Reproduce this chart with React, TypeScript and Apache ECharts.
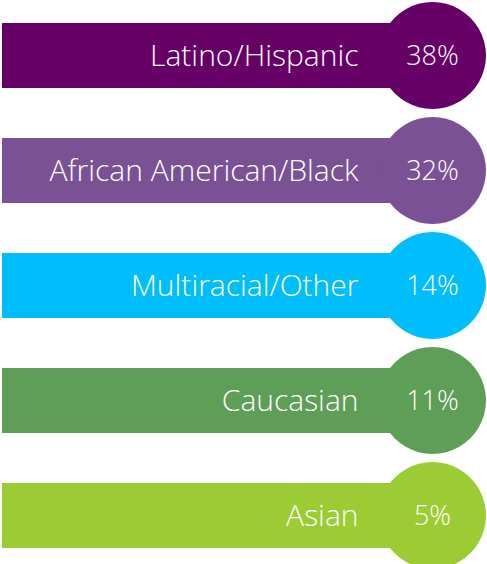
import React, { useEffect, useRef } from "react";
import * as echarts from "echarts";

const categories = ["Latino/Hispanic", "African American/Black", "Multiracial/Other", "Caucasian", "Asian"];
const percents = [38, 32, 14, 11, 5];
const colors = ["#660066", "#7a5195", "#00bdfb", "#5e9e57", "#9ccc33"];

export default function App() {
  const ref = useRef<HTMLDivElement>(null);
  useEffect(() => {
    document.body.style.margin = "0";
    const chart = echarts.init(ref.current!, null, { renderer: "svg" });
    const circleAt = 430.5;
    const font = { color: "#fff", fontFamily: "Open Sans", fontWeight: 300 };
    chart.setOption({
      animation: false,
      grid: { left: 2, top: 0, width: 485, height: 575 },
      xAxis: { type: "value", min: 0, max: 485, show: false },
      yAxis: { type: "category", data: categories, inverse: true, show: false },
      series: [
        {
          type: "bar",
          barWidth: 65,
          data: categories.map((c, i) => ({ value: circleAt, itemStyle: { color: colors[i] } })),
          label: {
            show: true,
            position: "insideRight",
            distance: 74,
            offset: [0, -1],
            formatter: (p: any) => p.name,
            fontSize: 30,
            ...font,
          },
          z: 2,
        },
        {
          type: "scatter",
          symbol: "circle",
          symbolSize: 107,
          data: categories.map((c, i) => ({
            value: [circleAt, c],
            itemStyle: { color: colors[i], opacity: 1 },
          })),
          label: {
            show: true,
            position: "inside",
            offset: [0, -1],
            formatter: (p: any) => percents[p.dataIndex] + "%",
            fontSize: 27,
            ...font,
          },
          z: 3,
        },
      ],
    });
    return () => chart.dispose();
  }, []);
  return (
    <div style={{ width: 487, height: 564, overflow: "hidden", position: "relative" }}>
      <div ref={ref} style={{ position: "absolute", left: 0, top: -2, width: 487, height: 600 }} />
    </div>
  );
}
